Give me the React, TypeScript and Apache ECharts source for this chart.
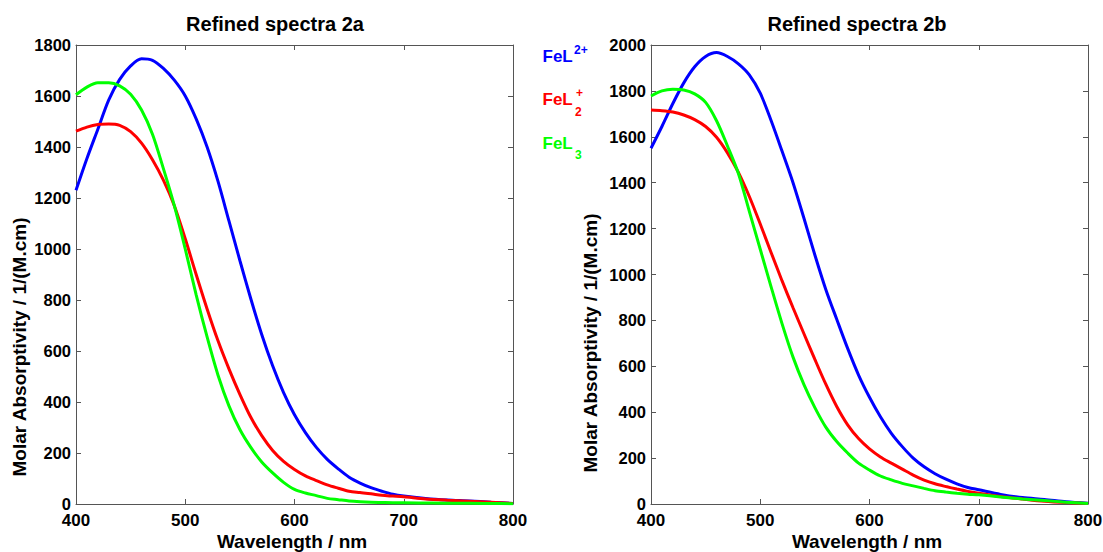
import React, { useEffect, useRef } from "react";
import * as echarts from "echarts";

// Wavelengths (nm)
const wavelengths = [
  400, 410, 420, 430, 440, 450, 460, 470, 480, 490, 500, 510, 520, 530, 540, 550,
  560, 570, 580, 590, 600, 610, 620, 630, 640, 650, 660, 670, 680, 690, 700,
  720, 740, 760, 780, 800,
];

// Refined spectra 2a
const a_FeL2plus = [
  1230, 1355, 1470, 1585, 1665, 1718, 1746, 1740, 1708, 1662, 1600, 1510, 1400, 1265, 1110, 955,
  805, 665, 542, 437, 350, 280, 222, 175, 138, 105, 82, 64, 50, 38, 31,
  22, 16, 12, 7, 2,
];
const a_FeL2 = [
  1462, 1478, 1488, 1490, 1485, 1460, 1415, 1350, 1270, 1170, 1040, 900, 765, 640, 530, 430,
  340, 268, 210, 167, 135, 110, 92, 75, 62, 50, 45, 40, 34, 31, 28,
  20, 15, 11, 7, 2,
];
const a_FeL3 = [
  1605, 1635, 1652, 1652, 1640, 1607, 1545, 1450, 1315, 1170, 1000, 820, 655, 505, 385, 292,
  222, 165, 122, 85, 57, 43, 33, 22, 17, 12, 9, 7, 6, 5, 5,
  4, 3, 3, 2, 1,
];

// Refined spectra 2b
const b_FeL2plus = [
  1550, 1645, 1745, 1835, 1905, 1950, 1967, 1950, 1918, 1870, 1790, 1670, 1537, 1400, 1245, 1085,
  935, 805, 678, 562, 465, 380, 308, 250, 200, 162, 132, 108, 88, 72, 62,
  42, 28, 20, 10, 3,
];
const b_FeL2 = [
  1717, 1714, 1708, 1695, 1675, 1645, 1598, 1530, 1445, 1340, 1220, 1095, 972, 855, 742, 630,
  522, 425, 345, 285, 240, 205, 178, 152, 126, 104, 88, 76, 65, 55, 47,
  33, 22, 12, 6, 2,
];
const b_FeL3 = [
  1778, 1800, 1807, 1804, 1787, 1750, 1670, 1560, 1440, 1275, 1110, 945, 785, 640, 520, 420,
  335, 272, 222, 178, 148, 122, 105, 90, 79, 68, 58, 52, 47, 43, 40,
  31, 22, 15, 8, 2,
];

const xTicks = { min: 400, max: 800, interval: 100 };
const yLeft = { min: 0, max: 1800, interval: 200 };
const yRight = { min: 0, max: 2000, interval: 200 };

const titles = ["Refined spectra 2a", "Refined spectra 2b"];
const xName = "Wavelength / nm";
const yName = "Molar Absorptivity / 1/(M.cm)";

const BLUE = "#0000ff";
const RED = "#ff0000";
const GREEN = "#00ff00";
const AXIS = "#555555";
const FONT = "'Liberation Sans', Arial, sans-serif";

const pairs = (ys: number[]) => wavelengths.map((x, i) => [x, ys[i]]);

export default function App() {
  const ref = useRef<HTMLDivElement>(null);

  useEffect(() => {
    document.body.style.margin = "0";
    if (!ref.current) return;
    const chart = echarts.init(ref.current, null, { renderer: "svg" });

    const grids = [
      { left: 76, top: 45, width: 437, height: 459 },
      { left: 651, top: 45, width: 437, height: 459 },
    ];

    const axisCommon = {
      type: "value" as const,
      axisLine: { show: true, onZero: false, lineStyle: { color: AXIS, width: 1 } },
      axisTick: { show: true, inside: true, length: 5, lineStyle: { color: AXIS } },
      splitLine: { show: false },
    };
    const labelStyle = {
      color: "#000",
      fontFamily: FONT,
      fontWeight: "bold" as const,
      lineHeight: 13,
      formatter: (v: number) => String(v),
    };

    const xAxes: any[] = [];
    const yAxes: any[] = [];
    [0, 1].forEach((g) => {
      xAxes.push({
        ...axisCommon,
        gridIndex: g,
        position: "bottom",
        ...xTicks,
        axisLabel: { ...labelStyle, fontSize: 17, margin: 10 },
      });
      xAxes.push({
        ...axisCommon,
        gridIndex: g,
        position: "top",
        ...xTicks,
        axisLabel: { show: false },
      });
      const yr = g === 0 ? yLeft : yRight;
      yAxes.push({
        ...axisCommon,
        gridIndex: g,
        position: "left",
        ...yr,
        axisLabel: { ...labelStyle, fontSize: 16.5, margin: 5 },
      });
      yAxes.push({
        ...axisCommon,
        gridIndex: g,
        position: "right",
        ...yr,
        axisLabel: { show: false },
      });
    });

    const mk = (name: string, data: number[], color: string, g: number) => ({
      name,
      type: "line",
      xAxisIndex: g * 2,
      yAxisIndex: g * 2,
      data: pairs(data),
      showSymbol: false,
      smooth: 0.3,
      lineStyle: { color, width: 3 },
      itemStyle: { color },
    });

    const txt = (
      text: string,
      x: number,
      y: number,
      size: number,
      color = "#000",
      align = "center",
      rotation = 0
    ) => ({
      type: "text",
      x,
      y,
      rotation,
      style: {
        text,
        fill: color,
        font: `bold ${size}px ${FONT}`,
        align,
        verticalAlign: "middle",
      },
    });

    const graphic: any[] = [
      txt(titles[0], 275, 23.5, 20),
      txt(titles[1], 857, 23.5, 20),
      txt(xName, 292, 541, 19),
      txt(xName, 867, 541, 19),
      txt(yName, 19, 347, 19, "#000", "center", Math.PI / 2),
      txt(yName, 590, 343, 19, "#000", "center", Math.PI / 2),
      // legend
      txt("FeL", 542.5, 56.5, 17, BLUE, "left"),
      txt("2+", 574, 50, 12, BLUE, "left"),
      txt("FeL", 542.5, 99, 17, RED, "left"),
      txt("+", 576, 93, 12, RED, "left"),
      txt("2", 575, 111.5, 12, RED, "left"),
      txt("FeL", 542.5, 143.3, 17, GREEN, "left"),
      txt("3", 575, 155, 12, GREEN, "left"),
    ];

    chart.setOption({
      animation: false,
      backgroundColor: "#fff",
      grid: grids.map((g) => ({ ...g, outerBoundsMode: "none" })),
      xAxis: xAxes,
      yAxis: yAxes,
      series: [
        mk("FeL2+ (2a)", a_FeL2plus, BLUE, 0),
        mk("FeL2 (2a)", a_FeL2, RED, 0),
        mk("FeL3 (2a)", a_FeL3, GREEN, 0),
        mk("FeL2+ (2b)", b_FeL2plus, BLUE, 1),
        mk("FeL2 (2b)", b_FeL2, RED, 1),
        mk("FeL3 (2b)", b_FeL3, GREEN, 1),
      ],
      graphic,
    });

    return () => chart.dispose();
  }, []);

  return <div ref={ref} style={{ width: 1103, height: 552 }} />;
}
